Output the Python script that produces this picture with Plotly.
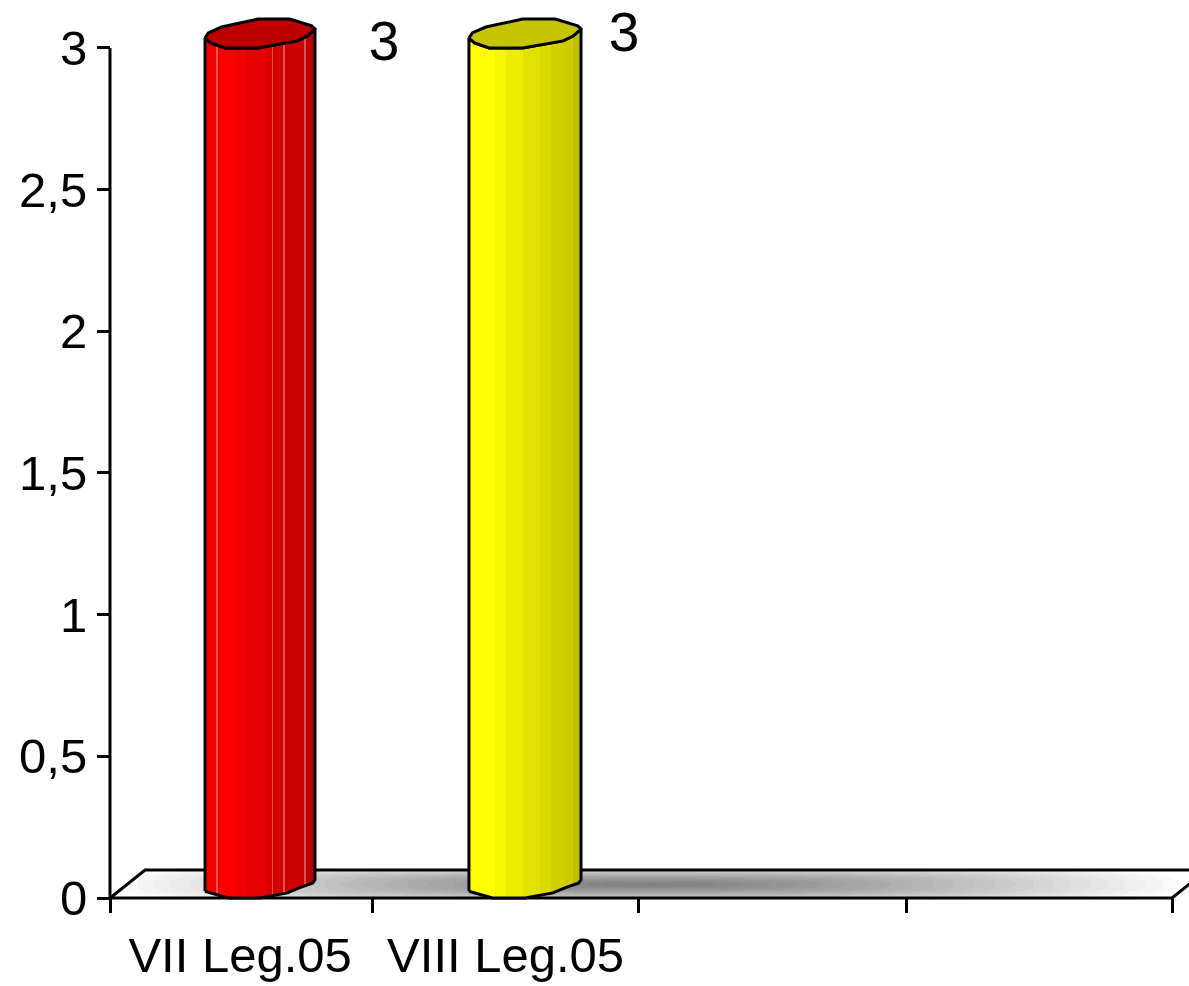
import numpy as np
import plotly.graph_objects as go

# ---- data ----
CATEGORIES = ["VII Leg.05", "VIII Leg.05"]
VALUES = [3, 3]
Y_TICK_VALUES = [0, 0.5, 1, 1.5, 2, 2.5, 3]
Y_TICK_LABELS = ["0", "0,5", "1", "1,5", "2", "2,5", "3"]
TOP_COLORS = ["#bf0000", "#c4c400"]
BAR_LEFT = [0.358, 1.352]
BAR_WIDTH = [0.414, 0.422]
LABEL_X = [1.032, 1.936]
LABEL_Y = [3.006, 3.039]
CATEGORY_TICK_POS = [0.49, 1.49]
BAND_TICK_POS = [0, 0.99, 1.99, 3, 4]

RED_BANDS = [
    (0.00, "#f60000"), (0.10, "#ff5050"), (0.115, "#ff0000"), (0.27, "#f40000"),
    (0.37, "#e80000"), (0.55, "#dc0000"), (0.605, "#e85050"), (0.62, "#d60000"),
    (0.71, "#e05050"), (0.725, "#cc0000"), (0.90, "#d85050"), (0.915, "#bf0000"),
]
YELLOW_BANDS = [
    (0.00, "#ffff00"), (0.23, "#f6f600"), (0.33, "#eded00"), (0.48, "#e2e200"),
    (0.63, "#dada00"), (0.73, "#d0d000"), (0.85, "#cccc00"), (0.93, "#c0c000"),
]

# rim outlines: (fraction of bar width, offset in value units from the bar value)
TOP_RIM_U = [0.00, 0.03, 0.15, 0.48, 0.77, 0.97, 1.00, 0.93, 0.84, 0.48, 0.18, 0.05]
TOP_RIM_V = [0.035, 0.053, 0.074, 0.102, 0.102, 0.078, 0.067, 0.042, 0.025, 0.0, 0.0, 0.018]
BOTTOM_U = [0.00, 0.11, 0.21, 0.50, 0.75, 0.85, 0.98, 1.00]
BOTTOM_V = [0.024, 0.012, 0.0, 0.0, 0.018, 0.035, 0.053, 0.064]

FLOOR_DX = 0.132
FLOOR_DY = 0.0988
AXIS_END = 4
PAD = 4  # px of plot area kept outside the axes so that edge lines are not clipped
PX_X = 265.5
PX_Y = 283.5
X_MAX = (1189 - 110) / PX_X
Y_MAX = 898.5 / PX_Y
X_MIN = -PAD / PX_X
Y_MIN = -PAD / PX_Y
FONT = "Liberation Sans, Arial, sans-serif"
FS = 49
FS_VALUE = 55


def stepped(bands):
    scale = []
    for i, (s, c) in enumerate(bands):
        e = bands[i + 1][0] if i + 1 < len(bands) else 1.0
        scale += [[s, c], [e, c]]
    return scale


fig = go.Figure()

# floor gradient
gx = np.linspace(0, X_MAX, 260)
gy = np.linspace(0, FLOOR_DY, 29)
cx, cy = 2.03, FLOOR_DY * 0.5
GX, GY = np.meshgrid(gx, gy)
tx = np.abs(GX - cx) / 2.03
ty = np.abs(GY - cy) / 0.07
t = (tx ** 3 + ty ** 3) ** (1 / 3)
t = t ** 1.3
z = np.clip(np.round(t * 24) / 24, 0, 1)
fig.add_trace(go.Heatmap(x=gx, y=gy, z=z, zmin=0, zmax=1, showscale=False, hoverinfo="skip",
                         colorscale=[[0, "#808080"], [1, "#ffffff"]]))

# white corners around the floor parallelogram
for xs, ys in ([0, FLOOR_DX, 0, 0], [0, FLOOR_DY, FLOOR_DY, 0]), (
        [AXIS_END, AXIS_END + FLOOR_DX, AXIS_END + FLOOR_DX, AXIS_END], [0, FLOOR_DY, 0, 0]):
    fig.add_trace(go.Scatter(x=xs, y=ys, mode="lines", fill="toself", fillcolor="white",
                             line=dict(width=0), hoverinfo="skip", showlegend=False))

line = dict(color="black", width=3)
# floor outline and axes
fig.add_trace(go.Scatter(x=[0, FLOOR_DX, AXIS_END + FLOOR_DX, AXIS_END, 0], y=[0, FLOOR_DY, FLOOR_DY, 0, 0],
                         mode="lines", line=line, hoverinfo="skip", showlegend=False, cliponaxis=False))
fig.add_trace(go.Scatter(x=[0, 0], y=[0, max(Y_TICK_VALUES)], mode="lines", line=line,
                         hoverinfo="skip", showlegend=False, cliponaxis=False))
# carries the second x axis, which holds the band ticks
fig.add_trace(go.Scatter(x=[0], y=[0], xaxis="x2", mode="lines", hoverinfo="skip", showlegend=False))

# cylinders
for name, val, left, w, bands, top in zip(CATEGORIES, VALUES, BAR_LEFT, BAR_WIDTH,
                                          [RED_BANDS, YELLOW_BANDS], TOP_COLORS):
    bx = [left + u * w for u in BOTTOM_U]
    by = list(BOTTOM_V)
    # front rim runs from the right edge round to the left edge
    fu = TOP_RIM_U[6:] + [TOP_RIM_U[0]]
    fv = TOP_RIM_V[6:] + [TOP_RIM_V[0]]
    px = bx + [left + u * w for u in fu] + [bx[0]]
    py = by + [val + v for v in fv] + [by[0]]
    fig.add_trace(go.Scatter(x=px, y=py, mode="lines", fill="toself", line=line, name=name,
                             fillgradient=dict(type="horizontal", colorscale=stepped(bands)),
                             hoverinfo="skip", showlegend=False, cliponaxis=False))
    rx = [left + u * w for u in TOP_RIM_U] + [left]
    ry = [val + v for v in TOP_RIM_V] + [val + TOP_RIM_V[0]]
    fig.add_trace(go.Scatter(x=rx, y=ry, mode="lines", fill="toself", fillcolor=top, line=line,
                             hoverinfo="skip", showlegend=False, cliponaxis=False))

# value labels
fig.add_trace(go.Scatter(x=LABEL_X, y=LABEL_Y, mode="text", text=[str(v) for v in VALUES],
                         textposition="middle center", textfont=dict(family=FONT, size=FS_VALUE, color="black"),
                         hoverinfo="skip", showlegend=False, cliponaxis=False))

plot_w = 1189 - (110 - PAD)
plot_h = 898.5 + PAD
fig.update_layout(
    width=1189, height=986, margin=dict(l=110 - PAD, r=0, t=0, b=87.5 - PAD, autoexpand=False),
    paper_bgcolor="white", plot_bgcolor="white", showlegend=False,
    font=dict(family=FONT, size=FS, color="black"),
    xaxis=dict(range=[X_MIN, X_MAX], showgrid=False, zeroline=False, showline=False, automargin=False,
               anchor="free", position=PAD / plot_h,
               tickmode="array", tickvals=CATEGORY_TICK_POS, ticktext=CATEGORIES,
               ticks="outside", ticklen=14, tickcolor="rgba(0,0,0,0)", tickwidth=1, tickangle=0),
    xaxis2=dict(range=[X_MIN, X_MAX], overlaying="x", anchor="free", position=PAD / plot_h, side="bottom",
                showgrid=False, zeroline=False, showline=False, automargin=False, showticklabels=False,
                tickmode="array", tickvals=BAND_TICK_POS,
                ticks="outside", ticklen=14, tickcolor="black", tickwidth=2.5),
    yaxis=dict(range=[Y_MIN, Y_MAX], showgrid=False, zeroline=False, showline=False, automargin=False,
               anchor="free", position=PAD / plot_w,
               tickmode="array", tickvals=Y_TICK_VALUES, ticktext=Y_TICK_LABELS,
               ticks="outside", ticklen=13, tickcolor="black", tickwidth=2.5),
)
fig.write_html("out.html", config=dict(displayModeBar=False),
               post_script="document.body.style.margin='0';document.body.style.overflow='hidden';")
